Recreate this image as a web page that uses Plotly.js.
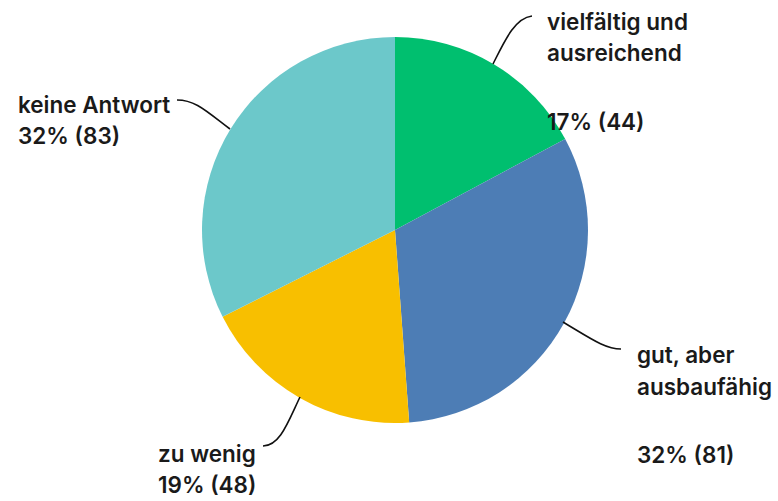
<!DOCTYPE html>
<html>
<head>
<meta charset="utf-8">
<script src="https://cdn.plot.ly/plotly-3.0.1.min.js"></script>
<style>html,body{margin:0;padding:0;background:#fff;}#chart{width:778px;height:501px;}</style>
</head>
<body>
<div id="chart"></div>
<script>
// Data
const categories = ["vielfältig und ausreichend", "gut, aber ausbaufähig", "zu wenig", "keine Antwort"];
const values = [44, 81, 48, 83];
const percents = ["17%", "32%", "19%", "32%"];
const colors = ["#00BF6F", "#4D7DB5", "#F8BF00", "#6CC8CA"];

// Label text lines per category
const labelLines = [
  ["vielfältig und", "ausreichend"],
  ["gut, aber", "ausbaufähig"],
  ["zu wenig"],
  ["keine Antwort"]
];
const valueText = values.map((v, i) => percents[i] + " (" + v + ")");

// Layout placement (pixel coordinates on hidden axes)
const labelPos = [
  {x: 545, ys: [21, 52], vy: 121},
  {x: 635, ys: [354, 386], vy: 454},
  {x: 156, ys: [453], vy: 484},
  {x: 16,  ys: [104], vy: 135}
];
const leaderPaths = [
  "M 493 64 C 505 40, 515 18, 532 16",
  "M 563 322 C 590 338, 605 349, 621 349",
  "M 300 397 C 288 422, 280 446, 263 446",
  "M 177 100 C 195 100, 205 110, 230 129"
];

const font = {family: "Inter, 'Noto Sans', sans-serif", size: 22.5, color: "#1a1a1a", weight: 600};

const annotations = [];
labelLines.forEach((lines, i) => {
  const p = labelPos[i];
  lines.forEach((t, j) => {
    annotations.push({x: p.x, y: p.ys[j], xref: "x", yref: "y", text: t, showarrow: false,
      xanchor: "left", yanchor: "middle", font: font});
  });
  annotations.push({x: p.x, y: p.vy, xref: "x", yref: "y", text: valueText[i], showarrow: false,
    xanchor: "left", yanchor: "middle", font: font});
});

const shapes = leaderPaths.map(d => ({type: "path", path: d, xref: "x", yref: "y",
  line: {color: "#111", width: 1.6}}));

const W = 778, H = 501;
const trace = {
  type: "pie",
  labels: categories,
  values: values,
  sort: false,
  direction: "clockwise",
  rotation: 0,
  marker: {colors: colors, line: {width: 0}},
  textinfo: "none",
  hoverinfo: "none",
  domain: {x: [202 / W, 588 / W], y: [1 - 423 / H, 1 - 37 / H]}
};

const layout = {
  width: W, height: H,
  margin: {l: 0, r: 0, t: 0, b: 0},
  paper_bgcolor: "#fff", plot_bgcolor: "rgba(0,0,0,0)",
  showlegend: false,
  xaxis: {range: [0, W], visible: false, fixedrange: true},
  yaxis: {range: [H, 0], visible: false, fixedrange: true},
  annotations: annotations,
  shapes: shapes
};

Plotly.newPlot("chart", [trace], layout, {displayModeBar: false, staticPlot: true});
</script>
</body>
</html>
